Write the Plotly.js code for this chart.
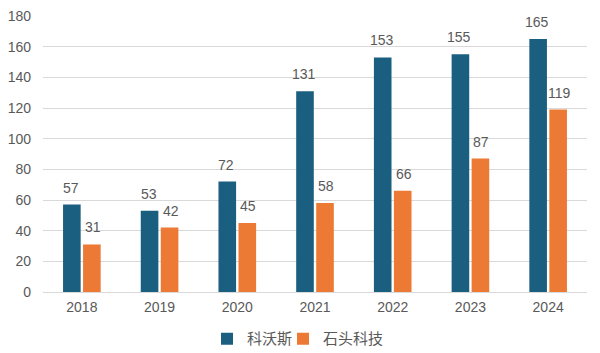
<!DOCTYPE html>
<html><head><meta charset="utf-8">
<script src="https://cdn.plot.ly/plotly-3.0.1.min.js"></script>
<style>html,body{margin:0;padding:0;background:#fff}#c{width:600px;height:353px}</style>
</head><body><div id="c"></div>
<script>
var years = ['2018','2019','2020','2021','2022','2023','2024'];
var kws = [57,53,72,131,153,155,165];
var stkj = [31,42,45,58,66,87,119];
var names = ['科沃斯','石头科技'];
var colors = ['#1b5f80','#ec7a34'];
var font = 'Liberation Sans, Noto Sans CJK SC, sans-serif';
var series = [kws, stkj];
var traces = series.map(function(vals, i){
  return {type:'bar', x:years, y:vals, name:names[i], marker:{color:colors[i]},
          legend: i===0 ? 'legend' : 'legend2', hoverinfo:'none'};
});
var annotations = [];
series.forEach(function(vals, i){
  vals.forEach(function(v, j){
    annotations.push({x:j, y:v, xref:'x', yref:'y', text:String(v), showarrow:false,
      xanchor:'center', yanchor:'bottom', xshift: i===0 ? -11 : 11, yshift:7,
      font:{size:14, color:'#595959', family:font}});
  });
});
var legBase = {orientation:'h', xref:'container', yref:'container', xanchor:'left', yanchor:'middle', y:0.04,
  font:{size:15,color:'#595959'}, itemwidth:30, bgcolor:'rgba(0,0,0,0)'};
var layout = {
 width:600, height:353, margin:{l:43,r:13,t:16,b:61,autoexpand:false},
 paper_bgcolor:'#fff', plot_bgcolor:'#fff',
 font:{family:font, color:'#595959', size:13},
 bargap:0.485, bargroupgap:0.12,
 showlegend:true,
 legend: Object.assign({}, legBase, {x:207/600}),
 legend2: Object.assign({}, legBase, {x:283/600}),
 annotations: annotations,
 xaxis:{type:'category', range:[-0.5, years.length-0.5], showgrid:false, showline:true, linecolor:'#d9d9d9', ticks:'', tickfont:{size:14,color:'#595959'}, ticklabelstandoff:2, automargin:false},
 yaxis:{range:[0,180], dtick:20, showgrid:true, gridcolor:'#d9d9d9', zeroline:false, showline:false, ticks:'', tickfont:{size:14,color:'#595959'}, ticklabelstandoff:11, automargin:false}
};
Plotly.newPlot('c', traces, layout, {displayModeBar:false, staticPlot:true});
</script></body></html>
